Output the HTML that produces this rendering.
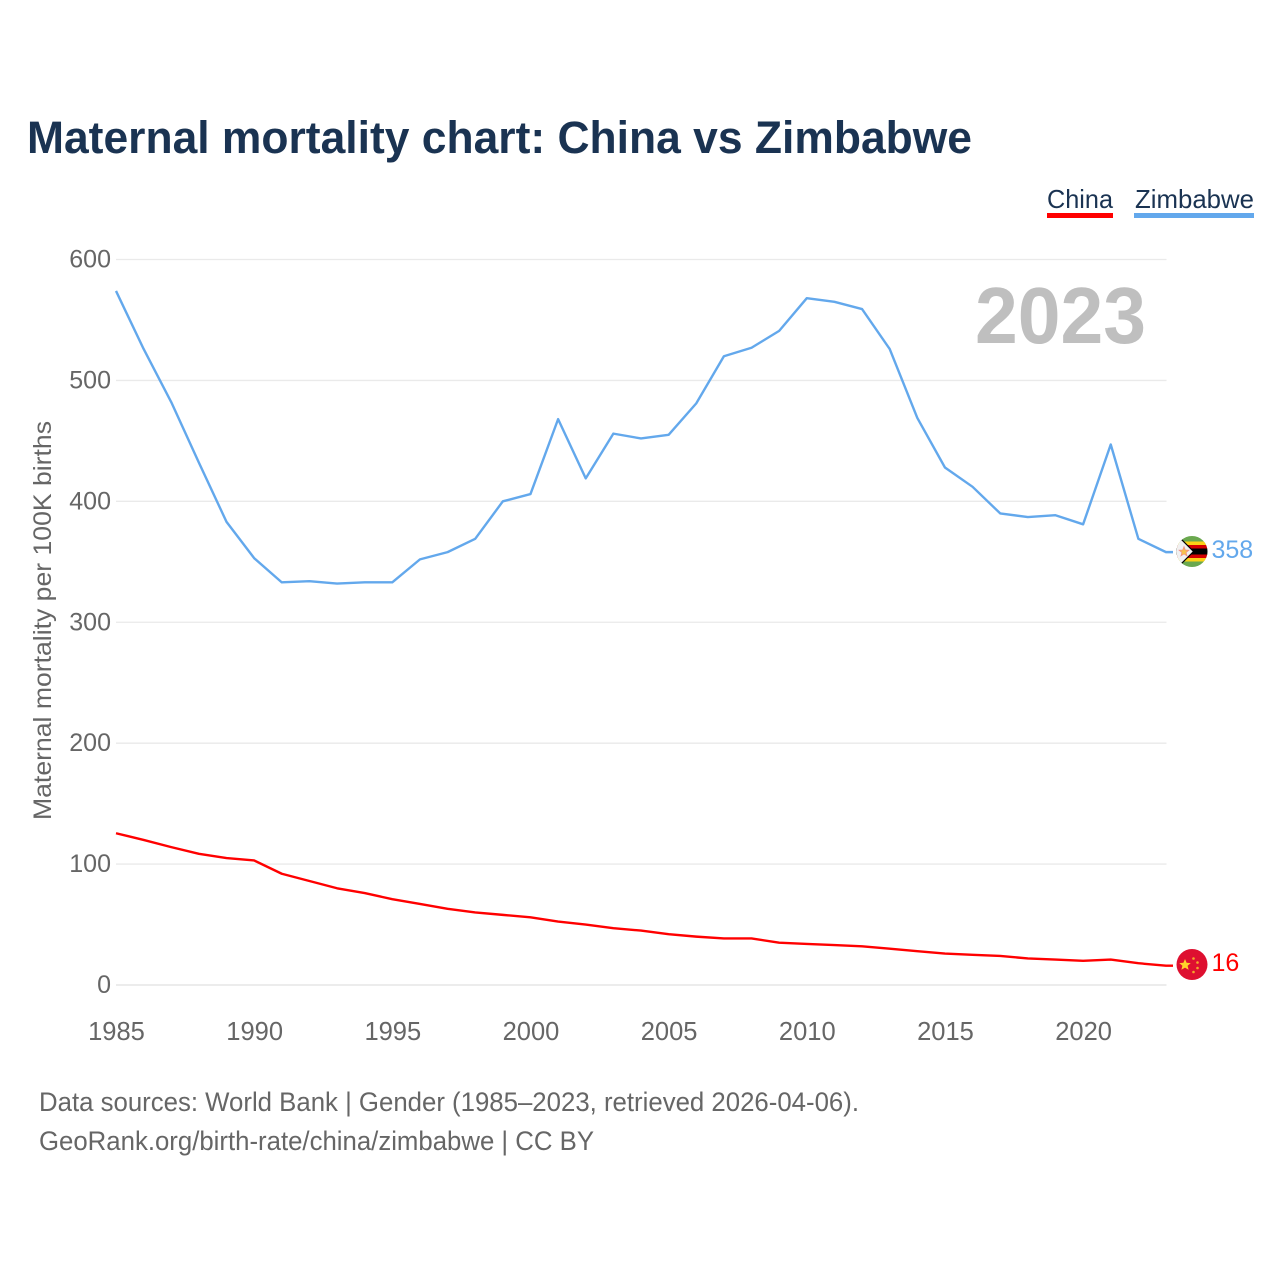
<!DOCTYPE html>
<html lang="en">
<head>
<meta charset="utf-8">
<title>Maternal mortality chart: China vs Zimbabwe</title>
<style>
html,body{margin:0;padding:0;background:#fff;}
svg{display:block;font-family:"Liberation Sans",sans-serif;}
</style>
</head>
<body>
<svg id="chart" xmlns="http://www.w3.org/2000/svg" width="1280" height="1280" viewBox="0 0 1280 1280">
  <defs>
    <clipPath id="flag-clip-zw"><circle cx="1192" cy="551.500" r="15.500"/></clipPath>
    <clipPath id="flag-clip-cn"><circle cx="1192" cy="964.500" r="15.500"/></clipPath>
  </defs>
  <rect width="1280" height="1280" fill="#fff"/>
  <text x="27" y="153" font-size="45" font-weight="700" fill="#1a3352" textLength="945" lengthAdjust="spacingAndGlyphs">Maternal mortality chart: China vs Zimbabwe</text>

  <g>
    <text x="1047" y="208" font-size="26" fill="#1a3352" textLength="66" lengthAdjust="spacingAndGlyphs">China</text>
    <rect x="1047" y="213" width="66" height="5" fill="#ff0000"/>
  </g>
  <g>
    <text x="1135" y="208" font-size="26" fill="#1a3352" textLength="119" lengthAdjust="spacingAndGlyphs">Zimbabwe</text>
    <rect x="1134" y="213" width="120" height="5" fill="#63a8ec"/>
  </g>

  <g id="grid"></g>
  <g id="ylabels"></g>
  <g id="xlabels"></g>

  <text transform="translate(51,820) rotate(-90)" font-size="25" fill="#666" textLength="399" lengthAdjust="spacingAndGlyphs">Maternal mortality per 100K births</text>
  <text x="975" y="343" font-size="80" font-weight="700" fill="#bfbfbf" textLength="171" lengthAdjust="spacingAndGlyphs">2023</text>

  <g id="lines"></g>

  <g clip-path="url(#flag-clip-zw)">
    <rect x="1176" y="536" width="32" height="32" fill="#6aa84f"/>
    <rect x="1176" y="541.500" width="32" height="3.500" fill="#fcd116"/>
    <rect x="1176" y="545" width="32" height="3.500" fill="#d40000"/>
    <rect x="1176" y="548.500" width="32" height="6" fill="#000"/>
    <rect x="1176" y="554.500" width="32" height="3.500" fill="#d40000"/>
    <rect x="1176" y="558" width="32" height="3.500" fill="#fcd116"/>
    <path d="M1176 534 L1193.500 551.500 L1176 569 Z" fill="#f1f1f1" stroke="#000" stroke-width="1.200"/>
    <path d="M1184 546.500 L1185.300 550 L1189 550.200 L1186.100 552.500 L1187.100 556 L1184 554 L1180.900 556 L1181.900 552.500 L1179 550.200 L1182.700 550 Z" fill="#f7c34a" stroke="#f08a8a" stroke-width="0.700"/>
  </g>
  <text id="zw-value" x="1211.500" y="558" font-size="25" fill="#63a8ec"></text>

  <g clip-path="url(#flag-clip-cn)">
    <rect x="1176" y="949" width="32" height="32" fill="#de1030"/>
    <path d="M1185 959 L1186.600 962.800 L1190.700 963.100 L1187.600 965.800 L1188.600 969.800 L1185 967.600 L1181.400 969.800 L1182.400 965.800 L1179.300 963.100 L1183.400 962.800 Z" fill="#ffd42a"/>
    <circle cx="1193.500" cy="958.500" r="1.300" fill="#f4a82a"/>
    <circle cx="1197.500" cy="962.500" r="1.300" fill="#f4a82a"/>
    <circle cx="1197.500" cy="968" r="1.300" fill="#f4a82a"/>
    <circle cx="1193.500" cy="972" r="1.300" fill="#f4a82a"/>
  </g>
  <text id="cn-value" x="1211.500" y="971" font-size="25" fill="#ff0000"></text>

  <text x="39" y="1111" font-size="27" fill="#666" textLength="820" lengthAdjust="spacingAndGlyphs">Data sources: World Bank | Gender (1985–2023, retrieved 2026-04-06).</text>
  <text x="39" y="1150" font-size="27" fill="#666" textLength="555" lengthAdjust="spacingAndGlyphs">GeoRank.org/birth-rate/china/zimbabwe | CC BY</text>
</svg>
<script>
var years = [1985,1986,1987,1988,1989,1990,1991,1992,1993,1994,1995,1996,1997,1998,1999,2000,2001,2002,2003,2004,2005,2006,2007,2008,2009,2010,2011,2012,2013,2014,2015,2016,2017,2018,2019,2020,2021,2022,2023];
var zimbabwe = [574,526,482,432,383,353,333,334,332,333,333,352,358,369,400,406,468,419,456,452,455,481,520,527,541,568,565,559,526,469,428,412,390,387,388.500,381,447,369,358];
var china = [125.5,120,114,108.5,105,103,92,86,80,76,71,67,63,60,58,56,52.500,50,47,45,42,40,38.500,38.500,35,34,33,32,30,28,26,25,24,22,21,20,21,18,16];
var yTicks = [0,100,200,300,400,500,600];
var xTicks = [1985,1990,1995,2000,2005,2010,2015,2020];

var NS = 'http://www.w3.org/2000/svg';
function xScale(year){ return 116 + (year - 1985) * (1166 - 116) / (2023 - 1985); }
function yScale(value){ return 985 - value * (985 - 259.5) / 600; }
function make(tag, parent){
  var el = document.createElementNS(NS, tag);
  parent.appendChild(el);
  return el;
}

var grid = document.getElementById('grid');
var ylabels = document.getElementById('ylabels');
var xlabels = document.getElementById('xlabels');
var lines = document.getElementById('lines');

yTicks.forEach(function(t){
  var l = make('line', grid);
  
  
  l.setAttribute('x1', 116);
  l.setAttribute('x2', 1166.500);
  l.setAttribute('y1', yScale(t));
  l.setAttribute('y2', yScale(t));
  l.setAttribute('stroke', t === 0 ? '#ececec' : '#eaeaea');
  l.setAttribute('stroke-width', t === 0 ? 2 : 1.3);
  var s = make('text', ylabels);
  
  
  s.setAttribute('x', 111);
  s.setAttribute('y', yScale(t) + 8);
  s.setAttribute('text-anchor', 'end');
  s.setAttribute('font-size', 25);
  s.setAttribute('fill', '#666');
  s.textContent = t;
});

xTicks.forEach(function(t){
  var s = make('text', xlabels);
  
  
  s.setAttribute('x', xScale(t) + 0.5);
  s.setAttribute('y', 1040);
  s.setAttribute('text-anchor', 'middle');
  s.setAttribute('font-size', 25.500);
  s.setAttribute('fill', '#666');
  s.textContent = t;
});

function drawSeries(values, color){
  var pts = values.map(function(v, i){ return xScale(years[i]).toFixed(2) + ',' + yScale(v).toFixed(2); });
  var last = values[values.length - 1];
  pts.push('1173,' + yScale(last).toFixed(2));
  var p = make('polyline', lines);
  p.setAttribute('points', pts.join(' '));
  p.setAttribute('fill', 'none');
  p.setAttribute('stroke', color);
  p.setAttribute('stroke-width', 2.400);
  p.setAttribute('stroke-linejoin', 'round');
  return p;
}
var zwLine = drawSeries(zimbabwe, '#63a8ec');


var cnLine = drawSeries(china, '#ff0000');



document.getElementById('zw-value').textContent = zimbabwe[zimbabwe.length - 1];
document.getElementById('cn-value').textContent = china[china.length - 1];
</script>
</body>
</html>
